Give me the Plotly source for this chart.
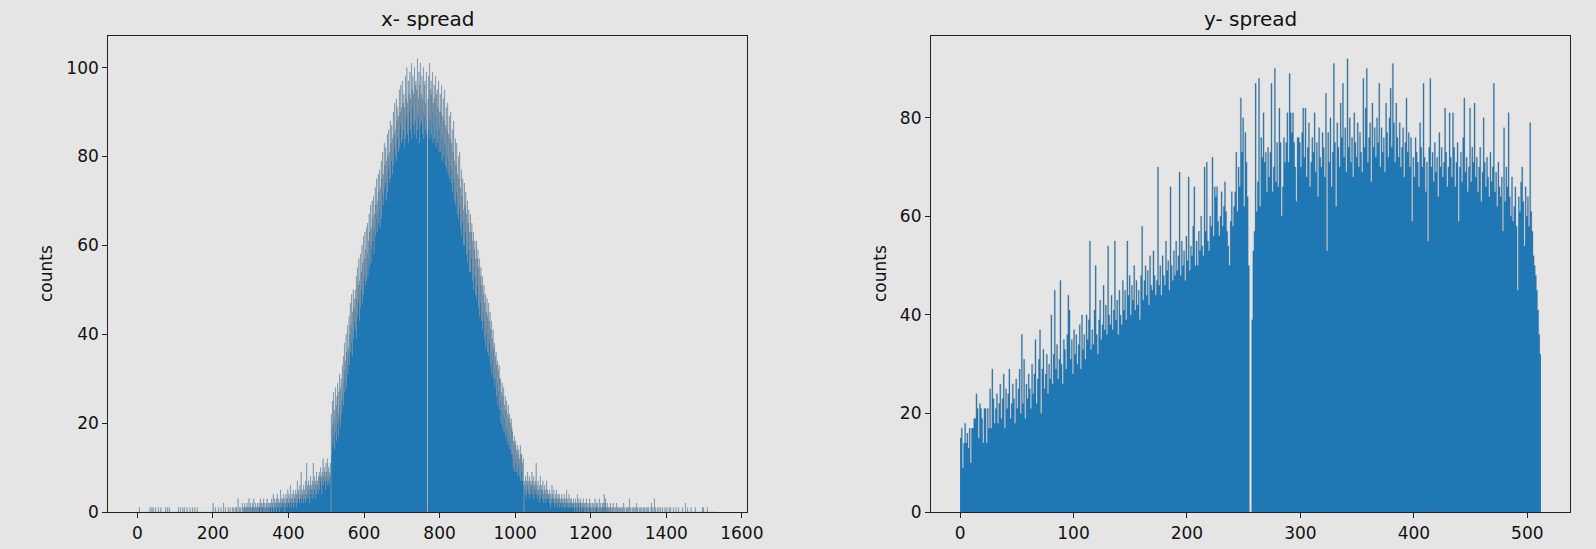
import plotly.graph_objects as go

# ---------------- data (histogram counts) ----------------
# x- spread : one count per pixel column, bins 0..1535 (32 bins per row)
x_rows = [
    [0,0,0,0,0,1,0,0,0,0,0,0,0,0,0,0,0,0,0,0,0,0,0,0,0,0,0,0,0,0,0,0],
    [0,1,0,0,0,0,1,0,0,1,0,0,0,0,0,1,0,0,0,0,0,0,0,1,0,0,0,0,0,0,1,0],
    [0,0,0,0,0,0,0,0,0,0,0,1,0,0,0,0,1,0,0,0,1,0,0,0,0,0,0,0,0,0,0,0],
    [0,0,0,0,0,0,0,0,0,0,0,0,1,0,0,0,0,1,0,0,0,0,0,0,1,0,0,0,1,0,0,0],
    [0,0,0,1,0,0,0,0,0,0,0,1,0,0,0,0,0,0,1,0,0,0,0,0,1,0,0,0,0,0,1,0],
    [0,0,0,0,0,0,0,0,0,0,0,0,0,0,0,0,0,0,0,0,0,0,0,0,0,0,0,0,0,0,0,0],
    [0,0,0,0,0,0,0,0,2,0,0,0,0,0,1,0,0,0,0,0,0,0,1,0,0,0,0,0,0,1,0,0],
    [0,0,0,0,2,0,0,0,0,1,0,0,0,0,0,0,1,0,0,0,0,1,0,0,0,0,0,1,0,0,0,1],
    [0,0,0,1,0,0,1,0,0,0,3,0,0,0,1,0,0,1,0,0,0,2,0,0,1,0,1,0,2,0,1,1],
    [0,1,2,0,1,0,1,3,0,1,0,2,1,0,1,0,2,1,0,1,3,0,1,1,0,2,0,1,1,0,2,1],
    [1,0,2,1,1,3,0,1,2,0,1,1,2,0,3,1,0,2,1,1,0,2,1,3,1,0,2,1,0,1,2,1],
    [2,1,0,3,2,1,2,4,1,0,2,3,1,2,1,3,0,2,4,1,2,1,3,2,0,2,1,5,2,1,3,2],
    [3,1,2,4,2,0,3,2,1,4,3,2,1,3,5,2,2,4,1,3,2,6,2,3,1,4,2,3,5,2,1,3],
    [4,2,3,5,1,4,3,7,2,4,3,5,3,2,6,4,3,9,2,4,5,3,4,2,6,3,5,4,2,7,3,4],
    [11,4,6,3,5,7,4,6,2,5,8,4,6,5,3,7,5,11,4,6,8,5,3,7,6,4,9,5,7,6,4,8],
    [6,9,5,8,7,10,6,8,4,9,7,12,6,8,10,7,9,5,8,11,7,9,6,12,8,7,10,6,9,8,11,8],
    [0,22,13,19,25,15,20,27,17,23,14,21,28,18,24,16,26,20,29,22,17,27,24,31,21,28,19,30,25,22,33,26],
    [29,35,24,32,38,27,34,30,40,28,36,33,42,31,37,35,44,33,40,47,36,42,38,49,35,45,41,50,39,46,43,48],
    [41,50,45,53,39,48,55,44,51,47,57,43,52,49,58,46,54,50,60,47,56,52,62,49,57,53,63,51,59,55,64,52],
    [58,65,53,61,57,67,55,63,60,69,56,64,59,70,61,66,63,71,58,67,64,73,62,69,66,75,63,70,67,76,65,72],
    [68,77,64,73,70,79,66,75,72,81,69,76,71,83,73,78,74,82,70,79,76,85,72,80,77,86,74,81,78,88,75,83],
    [79,87,76,84,81,90,78,85,82,92,80,86,83,93,79,88,84,91,81,89,86,95,82,90,87,96,83,91,85,97,84,92],
    [86,94,82,91,88,98,84,93,89,100,85,92,87,97,83,94,90,99,86,93,88,101,84,95,91,98,87,94,89,100,85,96],
    [88,97,84,95,90,102,86,93,89,99,83,96,91,101,87,94,88,98,85,93,90,100,84,96,89,97,86,92,88,99,85,0],
    [0,93,86,98,89,101,84,95,88,97,85,94,90,99,83,92,87,96,84,93,89,98,82,94,86,95,83,91,87,97,81,90],
    [86,94,81,90,84,96,79,89,85,93,80,88,83,95,78,87,82,91,77,86,80,92,76,85,79,89,75,84,78,90,74,83],
    [77,86,72,81,75,88,70,79,74,84,69,78,72,83,67,76,71,80,66,75,69,81,64,73,67,77,62,71,65,75,60,68],
    [66,74,60,69,63,72,58,67,61,70,56,65,59,68,54,63,59,67,54,63,57,65,52,61,55,63,50,59,53,61,49,57],
    [53,61,48,57,51,59,46,55,49,57,44,53,47,55,43,51,45,53,41,49,43,51,39,47,42,49,37,45,40,48,36,44],
    [40,47,35,43,38,45,33,41,36,43,31,39,34,41,30,37,32,38,28,35,30,36,26,33,29,34,24,32,27,33,23,30],
    [25,30,20,27,23,29,19,26,22,28,18,24,21,26,17,23,19,25,16,22,18,24,15,21,17,22,14,20,16,21,13,19],
    [13,18,10,16,12,17,9,15,11,16,9,14,12,15,8,13,10,14,8,12,11,15,7,13,9,13,7,11,10,12,6,0],
    [5,7,4,8,6,3,7,5,9,6,4,7,5,8,3,6,7,4,6,5,9,4,7,6,3,8,5,6,4,7,5,11],
    [4,6,3,5,7,4,5,2,6,4,8,3,5,4,6,3,5,7,2,4,5,3,6,4,2,5,3,7,4,3,5,4],
    [3,4,2,5,3,1,4,3,2,6,3,4,2,3,5,2,3,1,4,2,3,5,2,3,1,4,3,2,4,1,3,2],
    [2,3,1,4,2,2,3,1,2,4,1,3,2,1,3,2,5,1,2,3,1,2,4,2,1,3,2,1,2,3,1,2],
    [1,2,3,1,0,2,1,3,2,1,2,0,4,1,2,1,3,0,2,1,2,3,1,0,2,1,2,1,3,1,0,2],
    [1,2,0,1,3,1,0,2,1,1,0,2,1,3,0,1,2,0,1,1,2,0,1,0,2,1,0,3,1,0,1,2],
    [1,0,2,1,0,1,3,0,1,2,0,1,1,0,2,1,0,2,1,4,1,0,2,3,1,0,1,2,0,1,0,1],
    [0,1,0,2,0,1,0,0,1,0,1,2,0,0,1,0,0,1,0,0,2,0,1,0,0,1,0,0,1,0,0,1],
    [0,0,1,0,1,0,0,2,0,0,1,0,0,0,1,0,1,0,0,1,0,0,3,0,0,1,0,0,0,1,0,0],
    [1,0,0,1,0,0,0,1,0,2,0,0,1,0,0,0,1,0,0,0,1,0,0,1,0,0,0,1,0,0,1,0],
    [0,0,1,0,0,0,1,0,0,1,0,0,0,0,0,1,2,0,0,0,1,0,0,0,3,0,0,1,0,0,0,0],
    [1,0,0,0,1,0,0,0,0,1,0,0,0,0,1,0,0,0,0,0,1,0,0,0,0,1,0,0,0,0,0,1],
    [0,0,0,1,0,0,0,0,0,0,1,0,0,0,0,0,0,1,0,0,0,0,0,0,1,0,0,0,0,0,0,0],
    [0,0,1,0,0,0,0,0,0,0,2,0,0,0,0,0,1,0,0,0,0,0,0,0,0,1,0,0,0,0,0,0],
    [0,0,0,0,1,0,0,0,0,0,0,0,0,0,0,0,0,0,0,0,0,0,0,1,0,0,1,0,0,0,0,0],
    [0,0,0,0,1,0,0,0,0,0,0,0,0,0,0,0,0,0,0,0,0,0,0,0,0,0,0,0,0,0,0,0],
]

# y- spread : bins 0..511 (16 bins per row)
y_rows = [
    [15,17,9,14,18,14,16,13,17,10,17,17,19,19,24,21],
    [15,22,21,19,14,21,21,14,21,17,25,17,29,23,18,21],
    [24,18,22,26,19,23,28,17,25,21,24,29,19,22,26,23],
    [18,27,21,25,29,20,36,22,31,19,26,23,28,25,21,30],
    [24,28,35,22,27,31,37,20,29,33,25,28,32,24,30,27],
    [40,26,32,45,29,34,27,31,47,30,26,35,33,29,36,44],
    [41,31,35,28,37,32,36,30,34,38,29,40,33,36,31,40],
    [35,39,55,33,37,34,41,50,36,32,39,43,35,38,46,37],
    [42,36,54,40,38,44,37,41,55,39,43,36,45,40,38,47],
    [41,45,39,55,44,48,40,46,43,50,41,47,42,45,39,48],
    [58,43,47,50,44,49,42,52,46,45,53,48,44,47,70,46],
    [50,44,52,48,46,55,49,51,45,66,50,47,53,48,55,49],
    [52,69,48,55,50,53,47,56,51,68,49,54,52,58,66,50],
    [55,50,57,53,60,54,52,70,57,71,55,53,60,58,72,56],
    [66,64,66,59,56,60,65,58,62,67,61,57,54,50,59,65],
    [58,62,65,73,61,70,66,84,73,80,62,77,71,64,50,0],
    [0,39,53,57,87,61,67,88,62,76,72,81,71,73,65,74],
    [68,73,87,65,70,90,67,75,66,82,75,60,66,76,71,75],
    [81,71,89,81,77,81,75,70,63,76,76,75,70,77,82,72],
    [82,68,74,79,66,71,76,73,81,69,75,64,78,72,70,77],
    [74,68,85,53,77,71,80,66,73,91,75,62,79,74,70,83],
    [76,87,72,78,69,92,74,80,71,76,68,81,75,72,79,70],
    [77,73,69,88,74,82,90,71,76,79,67,83,74,78,72,80],
    [75,87,70,78,73,76,69,83,77,72,80,86,74,91,79,71],
    [83,76,72,79,70,74,78,68,75,84,73,77,70,76,59,72],
    [68,76,73,71,66,79,74,70,87,72,65,71,55,74,88,70],
    [73,67,75,69,72,64,77,70,74,68,71,82,73,66,70,81],
    [72,68,81,74,66,71,75,59,70,73,67,76,84,69,72,65],
    [70,82,67,74,71,83,68,72,65,70,74,63,69,80,71,66],
    [72,68,64,73,67,70,87,65,69,62,71,66,64,68,57,78],
    [63,70,66,81,64,60,68,59,62,66,58,45,64,61,67,70],
    [63,54,66,60,64,58,79,61,57,52,50,48,45,41,36,32],
]

x_counts = [v for row in x_rows for v in row]
y_counts = [v for row in y_rows for v in row]

x_tick_vals = [0, 200, 400, 600, 800, 1000, 1200, 1400, 1600]
x_count_ticks = [0, 20, 40, 60, 80, 100]
y_tick_vals = [0, 100, 200, 300, 400, 500]
y_count_ticks = [0, 20, 40, 60, 80]

titles = ["x- spread", "y- spread"]
count_label = "counts"

# ---------------- styling ----------------
W, H = 1596, 549
BG = "#e5e5e5"
BLUE = "#1f77b4"
EDGE = "rgba(105,120,135,0.55)"
AX = "#222222"
FONT = "DejaVu Sans"


def step_trace(counts, xa, ya):
    edges = list(range(len(counts) + 1))
    ys = list(counts) + [counts[-1]]
    return go.Scatter(
        x=edges, y=ys, mode="lines",
        line=dict(shape="hv", width=0.5, color=EDGE, simplify=False),
        fill="tozeroy", fillcolor=BLUE,
        xaxis=xa, yaxis=ya, hoverinfo="skip", showlegend=False,
    )


fig = go.Figure()
fig.add_trace(step_trace(x_counts, "x", "y"))
fig.add_trace(step_trace(y_counts, "x2", "y2"))

# plot-area pixel boxes (left, right, top, bottom)
L1 = (108.3, 746.7)
L2 = (931.0, 1570.0)
TOP, BOT = 36.0, 512.0
ydom = [1 - BOT / H, 1 - TOP / H]

axis_common = dict(
    showline=True, mirror=True, linecolor=AX, linewidth=1.2,
    ticks="outside", ticklen=5, tickwidth=1.2, tickcolor=AX,
    showgrid=False, zeroline=False, automargin=False,
    tickfont=dict(family=FONT, size=17, color="#111111"),
)

nx = len(x_counts)
ny = len(y_counts)
fig.update_layout(
    width=W, height=H, autosize=False,
    margin=dict(l=0, r=0, t=0, b=0, pad=0),
    paper_bgcolor=BG, plot_bgcolor=BG,
    xaxis=dict(domain=[L1[0] / W, L1[1] / W], anchor="y",
               range=[-0.05 * nx, 1.05 * nx], tickvals=x_tick_vals, **axis_common),
    yaxis=dict(domain=ydom, anchor="x",
               range=[0, 1.05 * max(x_counts)], tickvals=x_count_ticks, **axis_common),
    xaxis2=dict(domain=[L2[0] / W, L2[1] / W], anchor="y2",
                range=[-0.05 * ny, 1.05 * ny], tickvals=y_tick_vals, **axis_common),
    yaxis2=dict(domain=ydom, anchor="x2",
                range=[0, 1.05 * max(y_counts)], tickvals=y_count_ticks, **axis_common),
    showlegend=False,
)

for (l, r), t in zip([L1, L2], titles):
    fig.add_annotation(text=t, xref="paper", yref="paper",
                       x=(l + r) / 2 / W, y=1 - 19 / H,
                       xanchor="center", yanchor="middle", showarrow=False,
                       font=dict(family=FONT, size=20, color="#111111"))

for xpix in [46, 880]:
    fig.add_annotation(text=count_label, xref="paper", yref="paper",
                       x=xpix / W, y=1 - 274 / H, textangle=-90,
                       xanchor="center", yanchor="middle", showarrow=False,
                       font=dict(family=FONT, size=17, color="#111111"))

page_fix = ("document.body.style.margin='0';"
            "document.body.style.background='" + BG + "';"
            "document.body.style.overflow='hidden';")
fig.write_html("out.html", post_script=page_fix,
               config={"displayModeBar": False, "responsive": False})
